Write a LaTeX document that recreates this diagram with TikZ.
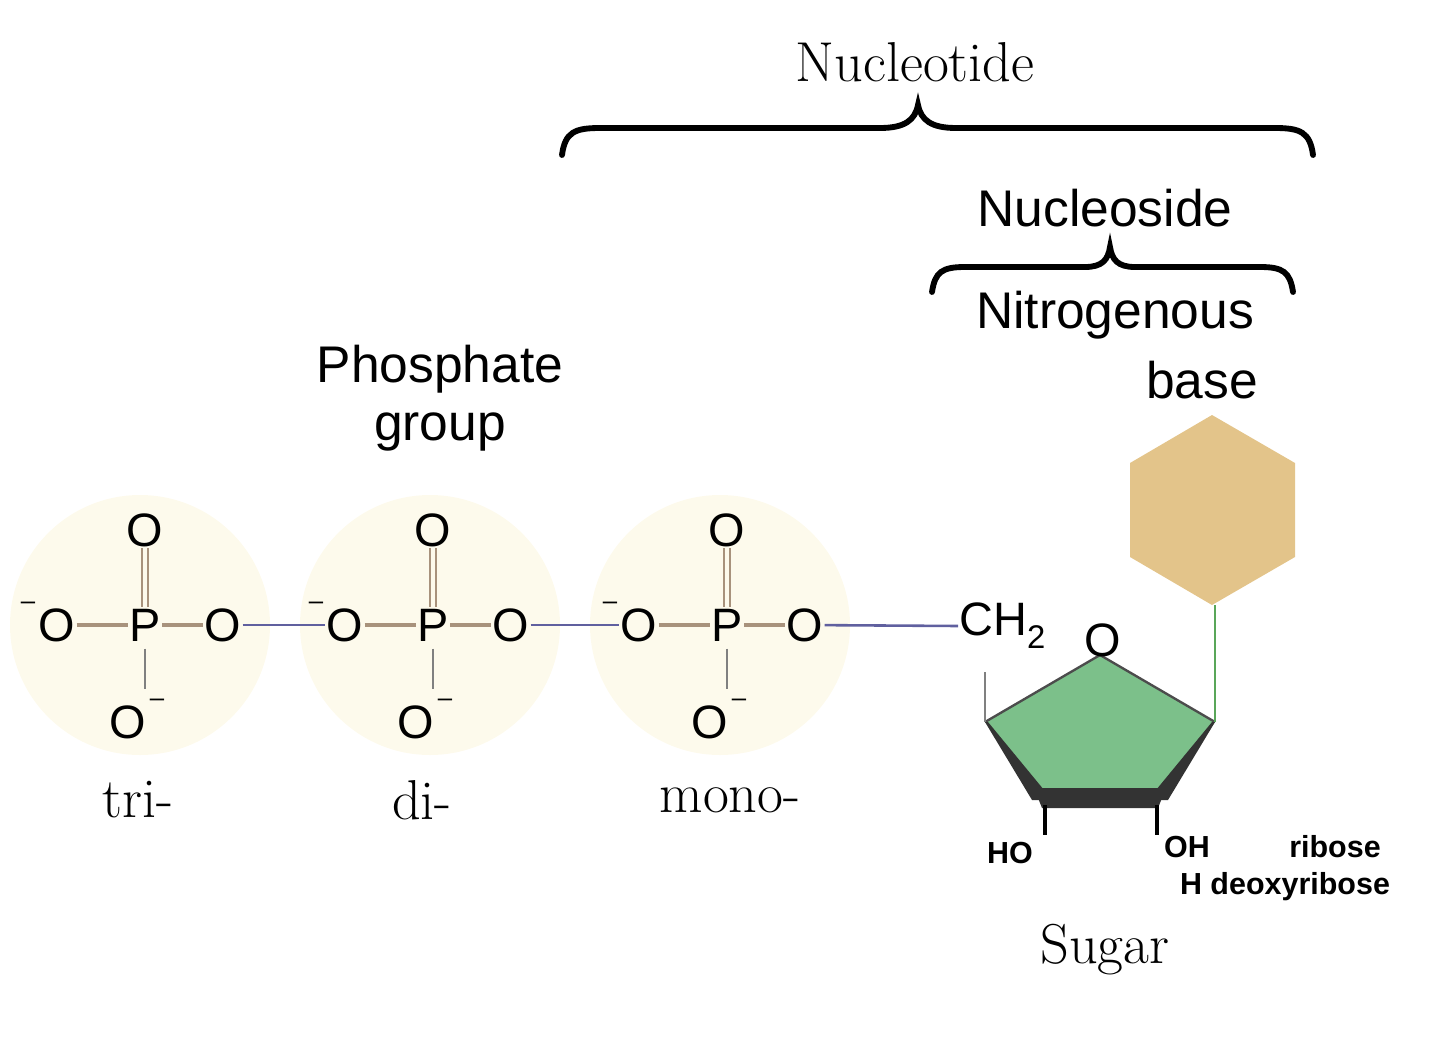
\documentclass[tikz,border=0pt]{standalone}
\usepackage{fontspec}
\newfontfamily\lsans{Liberation Sans}
\begin{document}
\begin{tikzpicture}[x=0.03cm,y=-0.03cm,
 atom/.style={font=\lsans\fontsize{40}{44}\selectfont,inner sep=1pt},
 minus/.style={font=\lsans\fontsize{22}{26}\selectfont,inner sep=0pt},
 lab/.style={font=\lsans\fontsize{44}{50}\selectfont,align=center},
 ser/.style={font=\fontsize{48}{56}\selectfont},
 bold/.style={font=\lsans\bfseries\fontsize{26}{30}\selectfont,inner sep=0pt},
 bond/.style={line width=2.6pt,draw=tan},
 link/.style={line width=2.2pt,draw=blue!25!gray},
 brace/.style={line width=5pt,line cap=round}]
\definecolor{cream}{HTML}{FDFAEC}
\definecolor{tan}{HTML}{A8927C}
\definecolor{sugar}{HTML}{7CC08A}
\definecolor{base}{HTML}{E3C48A}
\useasboundingbox (0,0) rectangle (1440,1036);
% phosphate circles
\foreach \c/\n in {140/t,430/d,720/m}{
  \fill[cream] (\c,625) circle (130);
}
\foreach \p/\n in {145/t,433/d,727/m}{
  \node[atom] (P\n) at (\p,625) {P};
  \node[atom] (L\n) at (\p-88,625) {O};
  \node[atom] (R\n) at (\p+78,625) {O};
  \node[atom] (T\n) at (\p,530) {O};
  \node[atom] (B\n) at (\p-17,722) {O};
  \node[minus] (ml\n) at (\p-117,606) {\textendash};
  \node[minus] (mb\n) at (\p+12,703) {\textendash};
  \draw[bond] (L\n) -- (P\n);
  \draw[bond] (P\n) -- (R\n);
  \draw[draw=tan,double=cream,double distance=4pt,line width=1.6pt] (T\n) -- (P\n);
  \draw[line width=2.4pt,gray] (P\n.south) ++(0,6) coordinate (ps\n) -- ++(0,40) coordinate (pe\n);
}
\draw[link] (Rt) -- (Ld);
\draw[link] (Rd) -- (Lm);
% sugar
\coordinate (s1) at (1100,655);
\coordinate (s2) at (1215,722);
\coordinate (s3) at (1160,795);
\coordinate (s4) at (1040,795);
\coordinate (s5) at (985,722);
\fill[sugar] (s1)--(s2)--(s3)--(s4)--(s5)--cycle;
\draw[line width=2pt,gray!60!black] (s5)--(s1)--(s2);
\fill[black!80] (s2) -- (1168,800) -- (1032,800) -- (s5) -- (988,722) -- (1044,790) -- (1156,790) -- (1212,722) -- cycle;
\fill[black!80] (1034,788) -- (1166,788) -- (1158,808) -- (1042,808) -- cycle;
\node[atom] (ro) at (1103,640) {O};
\node[atom,anchor=west] (ch) at (958,626) {CH\textsubscript{2}};
\draw[link] (Rm) -- (ch.west);
\draw[line width=2pt,gray] (985,672) -- (s5);
% base
\fill[base] (1212,415) -- (1295,463) -- (1295,557) -- (1212,605) -- (1130,557) -- (1130,463) -- cycle;
\coordinate (hb) at (1215,605);
\draw[line width=2pt,green!30!gray] (s2) -- (hb);
% OH groups
\draw[line width=3pt] (1045,805) -- (1045,835);
\draw[line width=3pt] (1157,805) -- (1157,835);
\node[bold] (ho) at (1010,853) {HO};
\node[bold] (oh) at (1187,847) {OH};
\node[bold] (rib) at (1335,847) {ribose};
\node[bold] (dri) at (1285,887) {H deoxyribose};
% labels
\node[ser] (tri) at (138,800) {tri-};
\node[ser] (di) at (422,800) {di-};
\node[ser] (mono) at (730,800) {mono-};
\node[ser] (sug) at (1105,950) {Sugar};
\node[ser] (nt) at (915,62) {Nucleotide};
\node[lab] (pg) at (440,398) {Phosphate\\group};
\node[lab] (ns) at (1105,208) {Nucleoside};
\node[lab] (nb1) at (1115,315) {Nitrogenous};
\node[lab] (nb2) at (1202,380) {base};
% braces
\draw[brace] (562,155) .. controls (565,132) and (575,128) .. (600,128) -- (880,128) .. controls (905,128) and (915,120) .. (918,105)
 .. controls (921,120) and (931,128) .. (956,128) -- (1275,128) .. controls (1300,128) and (1310,132) .. (1313,155);
\draw[brace] (932,292) .. controls (935,272) and (942,267) .. (965,267) -- (1085,267) .. controls (1102,267) and (1108,260) .. (1110,247)
 .. controls (1112,260) and (1118,267) .. (1135,267) -- (1260,267) .. controls (1283,267) and (1290,272) .. (1293,292);
\end{tikzpicture}
\end{document}
